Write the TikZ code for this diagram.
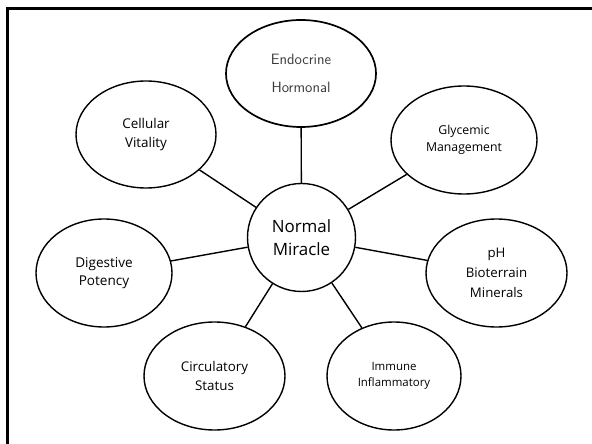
\documentclass[tikz,border=0pt]{standalone}
\usepackage{fontspec}
\setmainfont{Open Sans}
\usetikzlibrary{shapes.geometric}
\tikzset{
  bub/.style={draw, ellipse, line width=1.4bp, inner sep=0pt, align=center},
  hub/.style={draw, circle, line width=1.4bp, minimum size=108bp, inner sep=0pt, align=center},
  spoke/.style={line width=1.4bp},
  frame/.style={line width=2.6bp}
}
\definecolor{endotext}{HTML}{3A3A3A}
\begin{document}
\begin{tikzpicture}[x=1bp,y=-1bp]
\useasboundingbox (0,0) rectangle (592,444);
\draw[frame] (7.5,444) -- (7.5,8.5) -- (592,8.5);
\node[hub, font=\fontsize{17}{23}\selectfont] (hub) at (301.5,237.5) {Normal\\Miracle};
\node[bub, minimum width=150bp, minimum height=107bp, line width=1.7bp, text=endotext, font=\sffamily\fontsize{15}{28}\selectfont] (endo) at (301,73.5) {Endocrine\\Hormonal};
\node[bub, minimum width=140bp, minimum height=107bp, font=\fontsize{13.5}{19.5}\selectfont] (cell) at (146,134.5) {Cellular\\Vitality};
\node[bub, minimum width=146bp, minimum height=108bp, font=\fontsize{12.3}{17}\selectfont] (glyc) at (464,140) {Glycemic\\Management};
\node[bub, minimum width=141bp, minimum height=108bp, font=\fontsize{13.3}{20}\selectfont] (ph) at (496.5,273) {pH\\Bioterrain\\Minerals};
\node[bub, minimum width=134bp, minimum height=108bp, font=\fontsize{11.5}{16}\selectfont] (imm) at (394,376) {Immune\\Inflammatory};
\node[bub, minimum width=136bp, minimum height=108bp, font=\fontsize{13.6}{18.5}\selectfont] (dig) at (104,273) {Digestive\\Potency};
\node[bub, minimum width=141bp, minimum height=108bp, font=\fontsize{13.4}{20}\selectfont] (circ) at (214.5,376) {Circulatory\\Status};
\foreach \n in {endo,cell,glyc,ph,imm,dig,circ}
  \draw[spoke] (hub) -- (\n);
\end{tikzpicture}
\end{document}
